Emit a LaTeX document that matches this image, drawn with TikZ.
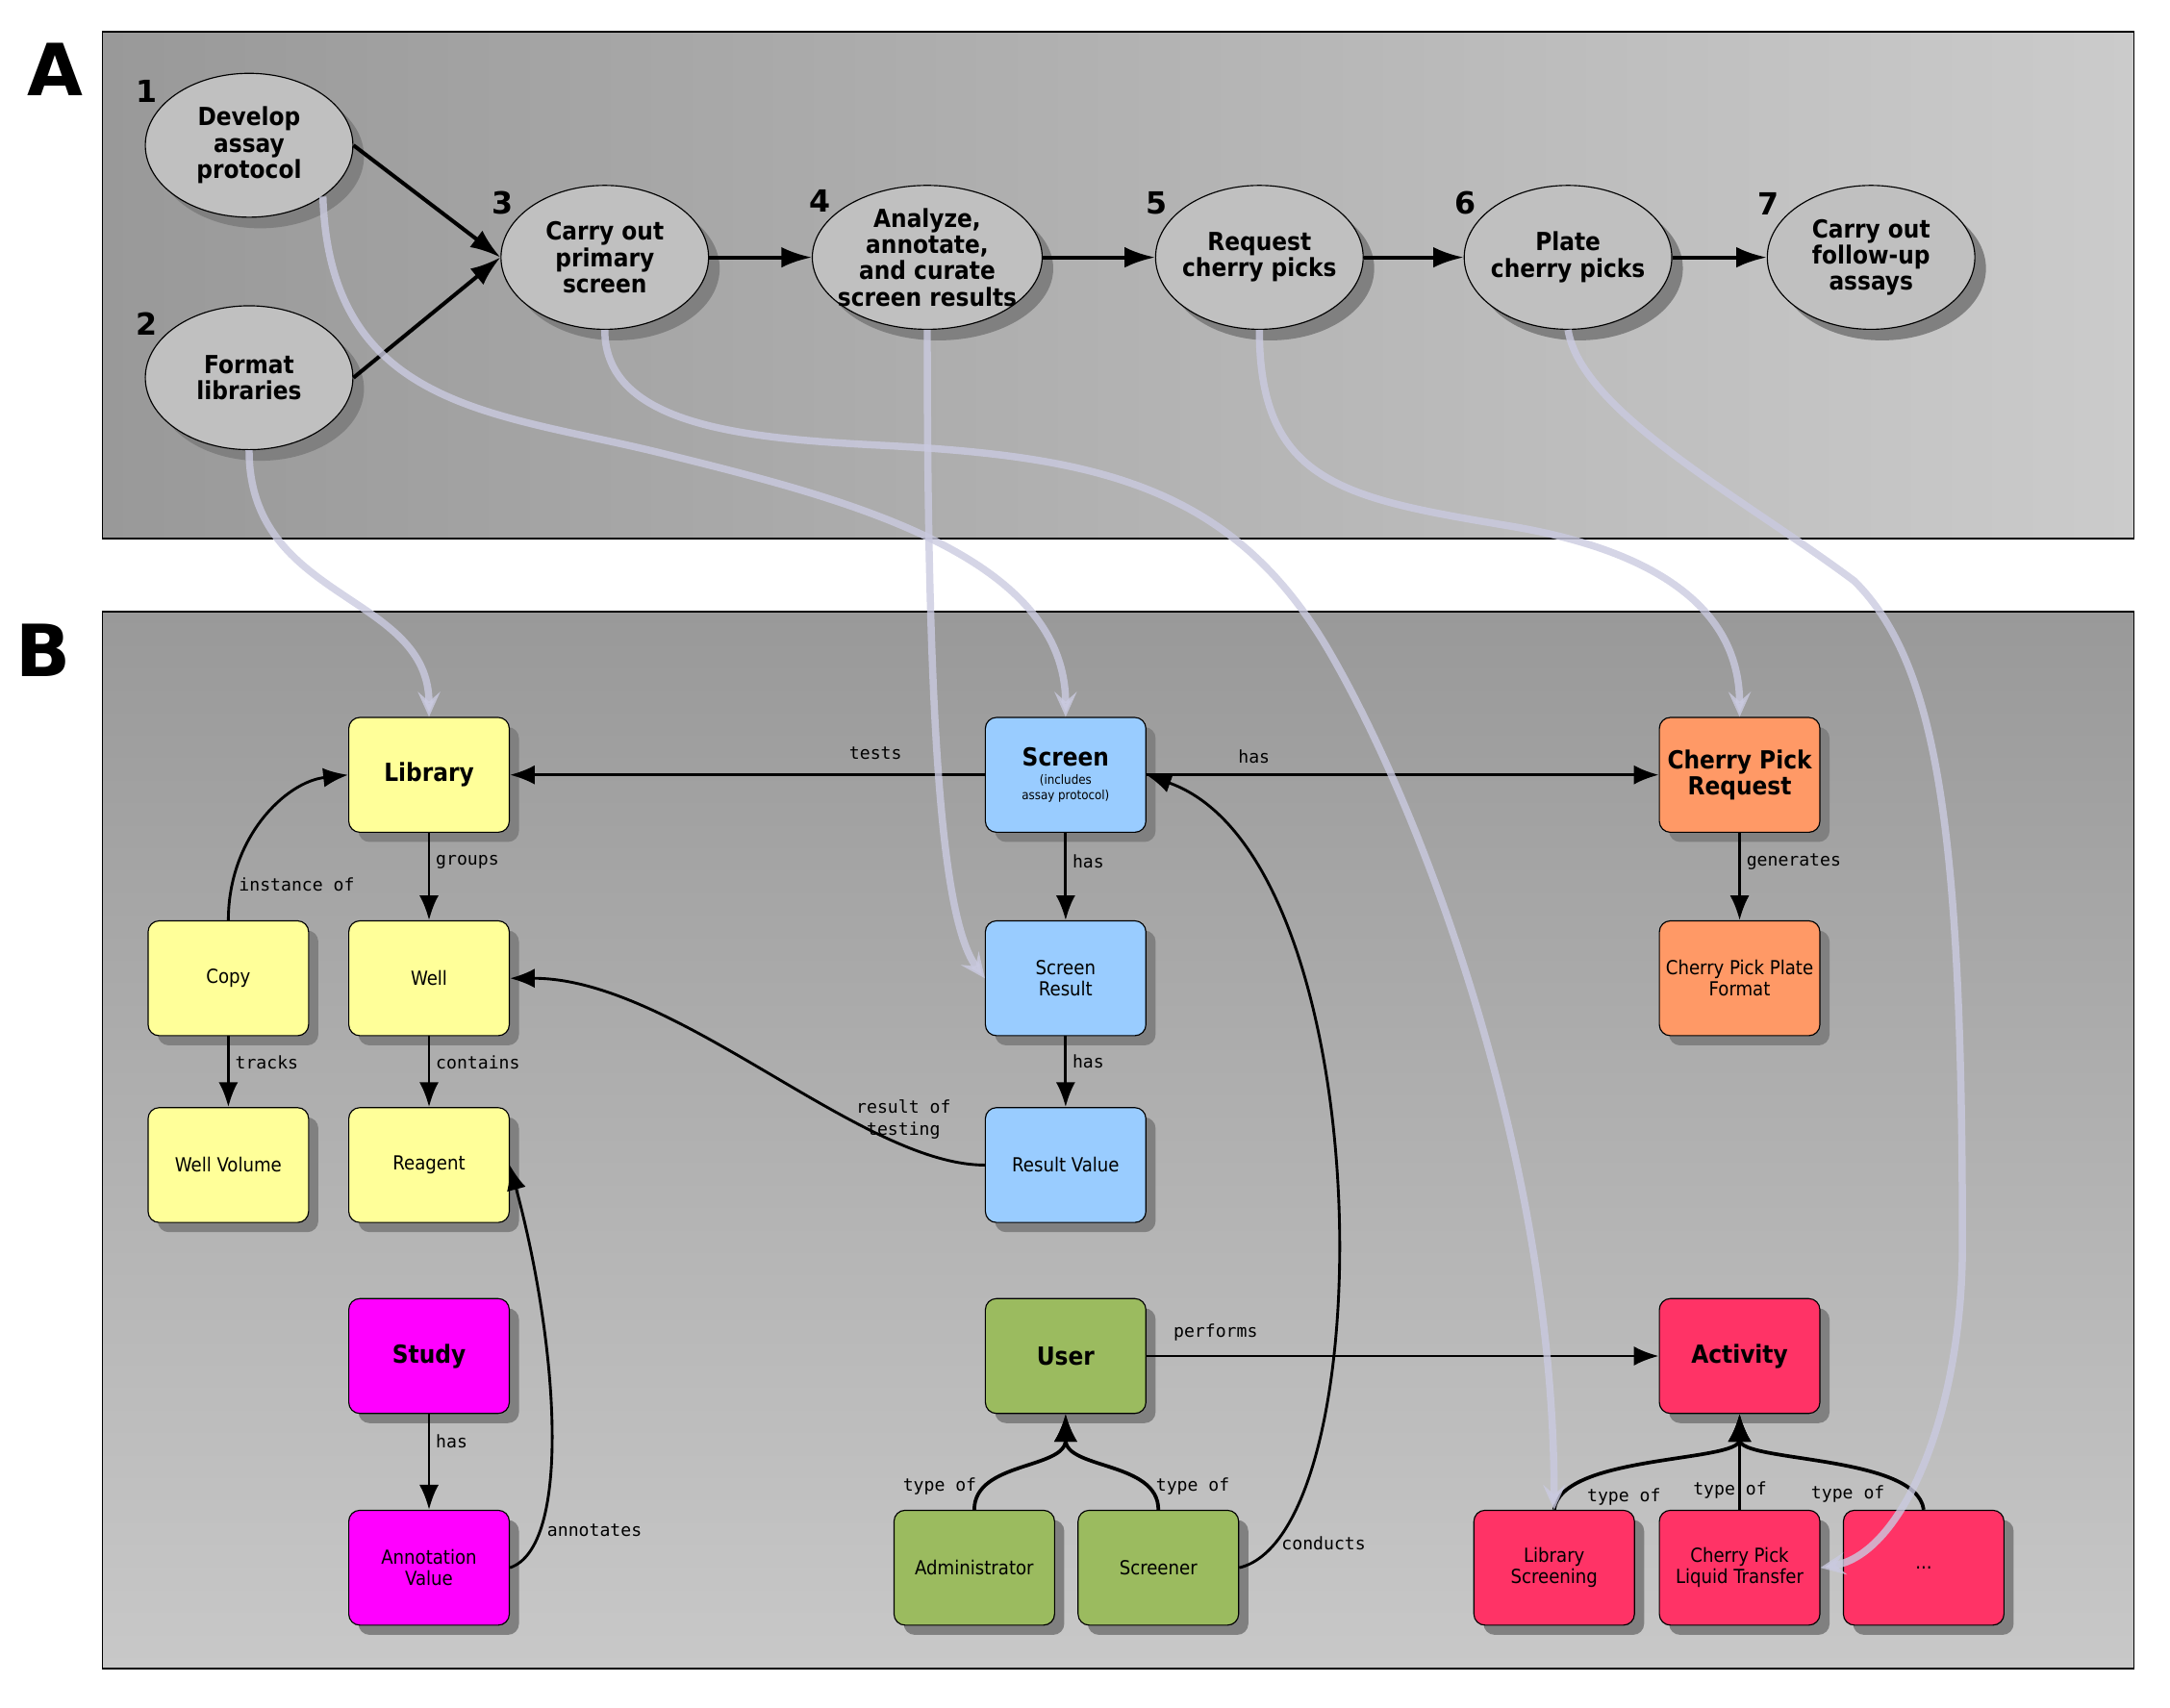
\documentclass[tikz,border=0pt]{standalone}
\usepackage{fontspec}
\usepackage{tikz}
\usetikzlibrary{arrows.meta,calc,positioning,shapes.geometric,shadows}
\newfontfamily\condfont{DejaVu Sans Condensed}
\newfontfamily\monofont{DejaVu Sans Mono}
\newfontfamily\headfont{DejaVu Sans}
\newcommand{\subnote}[1]{{\fontsize{4.6}{5.5}\selectfont #1}}
\definecolor{stagegray}{HTML}{C0C0C0}
\definecolor{shadowgray}{HTML}{808080}
\definecolor{panelL}{HTML}{999999}
\definecolor{panelR}{HTML}{CBCBCB}
\definecolor{panelB}{HTML}{C8C8C8}
\definecolor{libyellow}{HTML}{FFFF99}
\definecolor{scrblue}{HTML}{99CCFF}
\definecolor{cporange}{HTML}{FF9966}
\definecolor{studymag}{HTML}{FF00FF}
\definecolor{usergreen}{HTML}{9BBB5F}
\definecolor{actred}{HTML}{FF3366}
\definecolor{mapline}{HTML}{CACAE0}
\tikzset{%
	panel/.style    = {draw=black, line width=0.6pt},
	stage/.style    = {draw, ellipse, fill=stagegray, minimum width=75pt, minimum height=52pt, inner xsep=-3pt, inner ysep=-1pt, align=center, font=\condfont\bfseries\fontsize{9}{9.5}\selectfont, drop shadow={shadow xshift=4pt, shadow yshift=-4pt, fill=shadowgray, opacity=1}},
	num/.style      = {font=\headfont\bfseries\fontsize{11}{11}\selectfont, inner sep=1pt, xshift=-3pt, yshift=-2.5pt},
	entity/.style   = {draw, rectangle, rounded corners=4pt, minimum width=58pt, minimum height=41.5pt, inner sep=1pt, align=center, font=\condfont\fontsize{7}{7.6}\selectfont, drop shadow={shadow xshift=3.5pt, shadow yshift=-3.5pt, fill=shadowgray, opacity=1}},
	title/.style    = {font=\condfont\bfseries\fontsize{9}{9.6}\selectfont},
	yel/.style      = {fill=libyellow},
	blu/.style      = {fill=scrblue},
	orng/.style     = {fill=cporange},
	mag/.style      = {fill=studymag},
	grn/.style      = {fill=usergreen},
	rd/.style       = {fill=actred},
	flow/.style     = {line width=1.4pt, -{Latex[length=11pt,width=7.5pt]}},
	rel/.style      = {line width=1pt, -{Latex[length=9pt,width=7pt]}},
	typeof/.style   = {line width=1.3pt, -{Latex[length=10pt,width=8.5pt]}},
	lbl/.style      = {font=\monofont\fontsize{6.3}{8}\selectfont, inner sep=2pt, align=center},
	map/.style      = {draw=mapline, line width=2.6pt, opacity=.8, -{Stealth[length=9pt,width=8pt,inset=3.5pt]}},
}

\begin{document}
\begin{tikzpicture}[x=0.5pt, y=-0.5pt]
	\useasboundingbox (0,0) rectangle (1568,1234);
	% panels
	\draw[panel, left color=panelL, right color=panelR] (74,23) rectangle (1542,389);
	\draw[panel, top color=panelL, bottom color=panelB] (74,442) rectangle (1542,1206);
	\node[font=\headfont\bfseries\fontsize{26}{26}\selectfont] (pa) at (40,50) {A};
	\node[font=\headfont\bfseries\fontsize{26}{26}\selectfont] (pb) at (31,470) {B};

	% A: workflow
	\node[stage, label={[num]150:1}] (dev) at (180,105) {Develop\\assay\\protocol};
	\node[stage, label={[num]150:2}, below of=dev, node distance=84pt] (fmt) {Format\\libraries};
	\node[stage, label={[num]150:3}] (prim) at (437,186) {Carry out\\primary\\screen};
	\node[stage, label={[num]150:4}, right of=prim, node distance=116.5pt] (anal) {Analyze,\\annotate,\\and curate\\screen results};
	\node[stage, label={[num]150:5}, right of=anal, node distance=120pt] (req) {Request\\cherry picks};
	\node[stage, label={[num]150:6}, right of=req, node distance=111.5pt] (plate) {Plate\\cherry picks};
	\node[stage, label={[num]150:7}, right of=plate, node distance=109.5pt] (follow) {Carry out\\follow-up\\assays};

	\draw[flow] (dev.east) -- (prim.west);
	\draw[flow] (fmt.east) -- (prim.west);
	\draw[flow] (prim) -- (anal);
	\draw[flow] (anal) -- (req);
	\draw[flow] (req) -- (plate);
	\draw[flow] (plate) -- (follow);

	% B: data model
	\node[entity, yel, title] (lib) at (310,560) {Library};
	\node[entity, blu, right of=lib, node distance=230pt] (scr) {{\bfseries\fontsize{9}{9}\selectfont Screen}\\[-1pt]\subnote{(includes}\\[-2.2pt]\subnote{assay protocol)}};
	\node[entity, orng, title, right of=scr, node distance=243.5pt] (cpr) {Cherry Pick\\Request};
	\node[entity, yel, below of=lib, node distance=73.5pt] (well) {Well};
	\node[entity, yel, left of=well, node distance=72.5pt] (copy) {Copy};
	\node[entity, yel, below of=copy, node distance=67.5pt] (wvol) {Well Volume};
	\node[entity, yel, below of=well, node distance=67.5pt] (reag) {Reagent};
	\node[entity, blu, below of=scr, node distance=73.5pt] (sres) {Screen\\Result};
	\node[entity, blu, below of=sres, node distance=67.5pt] (rval) {Result Value};
	\node[entity, orng, below of=cpr, node distance=73.5pt] (cpf) {Cherry Pick Plate\\Format};
	\node[entity, mag, title, below of=reag, node distance=69pt] (study) {Study};
	\node[entity, mag, below of=study, node distance=76.5pt] (annv) {Annotation\\Value};
	\node[entity, grn, title, below of=rval, node distance=69pt] (user) {User};
	\node[entity, grn, below of=user, node distance=76.5pt, xshift=-33pt] (admin) {Administrator};
	\node[entity, grn, below of=user, node distance=76.5pt, xshift=33.5pt] (scrnr) {Screener};
	\node[entity, rd, title, below of=cpf, node distance=136.5pt] (act) {Activity};
	\node[entity, rd, below of=act, node distance=76.5pt] (cplt) {Cherry Pick\\Liquid Transfer};
	\node[entity, rd, left of=cplt, node distance=67pt] (lscr) {Library\\Screening};
	\node[entity, rd, right of=cplt, node distance=66.5pt] (more) {...};

	\draw[rel] (scr) -- node[lbl, pos=.23, above=3pt] {tests} (lib);
	\draw[rel] (scr) -- node[lbl, pos=.21, above=1.5pt] {has} (cpr);
	\draw[rel] (lib) -- node[lbl, pos=.33, right] {groups} (well);
	\draw[rel] (copy) -- node[lbl, pos=.37, right] {tracks} (wvol);
	\draw[rel] (well) -- node[lbl, pos=.37, right] {contains} (reag);
	\draw[rel] (scr) -- node[lbl, pos=.33, right] {has} (sres);
	\draw[rel] (sres) -- node[lbl, pos=.35, right] {has} (rval);
	\draw[rel] (cpr) -- node[lbl, pos=.33, right] {generates} (cpf);
	\draw[rel] (study) -- node[lbl, pos=.29, right] {has} (annv);
	\draw[rel] (user) -- node[lbl, pos=.135, above=3pt] {performs} (act);
	\draw[rel] (copy.north) .. controls +(0,-60) and +(-45,5) .. node[lbl, pos=.15, right] {instance of} (lib.west);
	\draw[rel] (rval.west) .. controls +(-90,0) and +(120,0) .. node[lbl, pos=.2, above] {result of\\testing} (well.east);
	\draw[rel] (annv.east) .. controls +(45,-15) and +(35,130) .. node[lbl, pos=.22, right] {annotates} (reag.east);
	\draw[rel] (scrnr.east) .. controls +(105,-25) and +(170,60) .. node[lbl, pos=.09, right] {conducts} (scr.east);
	\draw[typeof] (admin.north) .. controls +(0,-35) and +(0,40) .. node[lbl, pos=.2, left] {type of} (user.south);
	\draw[typeof] (scrnr.north) .. controls +(0,-35) and +(0,40) .. node[lbl, pos=.2, right] {type of} (user.south);
	\draw[typeof] (lscr.north) .. controls +(5,-40) and +(0,35) .. node[lbl, pos=.22, anchor=north west] {type of} (act.south);
	\draw[typeof] (cplt) -- node[lbl, pos=.2, xshift=-3.5pt] {type of} (act);
	\draw[typeof] (more.north) .. controls +(-5,-40) and +(0,35) .. node[lbl, pos=.25, anchor=north east] {type of} (act.south);

	% links from the workflow to the model
	\draw[map] (fmt.south) .. controls +(0,110) and +(0,-90) .. (lib.north);
	\draw[map] (dev.south east) .. controls +(5,155) and +(-120,-30) .. (480,328) .. controls +(120,30) and +(0,-120) .. (scr.north);
	\draw[map] (prim.south) .. controls +(0,70) and +(-100,-5) .. (640,322) .. controls +(150,8) and +(-70,-120) .. (960,470) .. controls +(70,120) and +(0,-250) .. (lscr.north);
	\draw[map] (anal.south) .. controls +(0,300) and +(-30,-40) .. (sres.west);
	\draw[map] (req.south) .. controls +(0,110) and +(-120,-20) .. (1090,380) .. controls +(120,20) and +(0,-70) .. (cpr.north);
	\draw[map] (plate.south) .. controls +(10,60) and +(-80,-60) .. (1340,420) .. controls +(60,60) and +(0,-300) .. (1418,900) .. controls +(0,120) and +(60,-10) .. (cplt.east);
\end{tikzpicture}
\end{document}
